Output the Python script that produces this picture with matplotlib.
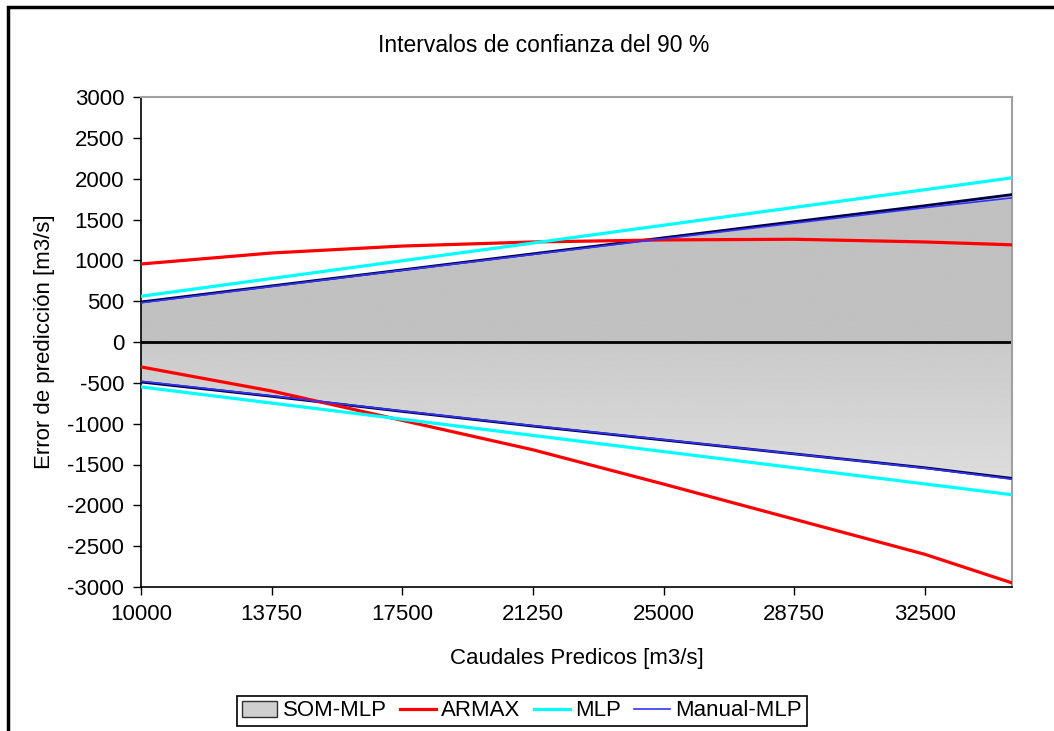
import numpy as np
import matplotlib
matplotlib.use("Agg")
import matplotlib.pyplot as plt
from matplotlib.patches import Patch, Rectangle
from matplotlib.lines import Line2D

plt.rcParams['font.family'] = ['Liberation Sans', 'DejaVu Sans']

# Predicted discharge [m3/s]
caudal = [10000, 13750, 17500, 21250, 25000, 28750, 32500, 35000]

# 90 % confidence interval bounds of the prediction error [m3/s]
som_sup = [490, 687, 883, 1080, 1276, 1473, 1669, 1805]
som_inf = [-490, -665, -850, -1030, -1200, -1370, -1540, -1670]
armax_sup = [955, 1090, 1175, 1225, 1250, 1258, 1225, 1190]
armax_inf = [-305, -600, -960, -1320, -1740, -2170, -2600, -2950]
mlp_sup = [560, 778, 995, 1212, 1430, 1648, 1865, 2010]
mlp_inf = [-550, -748, -946, -1144, -1342, -1540, -1738, -1870]
manual_sup = [480, 680, 878, 1072, 1265, 1455, 1645, 1765]
manual_inf = [-480, -660, -845, -1025, -1195, -1370, -1545, -1680]

x_ticks = [10000, 13750, 17500, 21250, 25000, 28750, 32500]
y_ticks = list(range(-3000, 3001, 500))

fig = plt.figure(figsize=(10.54, 7.31), dpi=100)
ax = fig.add_axes([141 / 1054, 1 - 587 / 731, (1012 - 141) / 1054, (587 - 97) / 731])

x = np.array(caudal, dtype=float)

# SOM-MLP band: filled polygon with a grey vertical gradient clipped to it
band = ax.fill_between(x, som_inf, som_sup, facecolor='none', edgecolor='none', zorder=1)
ymax, ymin = max(som_sup), min(som_inf)
ys = np.linspace(ymax, ymin, 400)
shade = np.where(ys >= 0, 0.755, 0.79 + (0.865 - 0.79) * (-ys / -ymin))
grad = np.tile(shade[:, None], (1, 2))
img = ax.imshow(grad, cmap='gray', vmin=0, vmax=1, aspect='auto',
                extent=[x[0], x[-1], ymin, ymax], interpolation='bilinear', zorder=1)
path = band.get_paths()[0]
img.set_clip_path(path, ax.transData)

ax.plot(x, som_sup, color='#000040', lw=2.0, zorder=3)
ax.plot(x, som_inf, color='#000040', lw=2.0, zorder=3)

ax.axhline(0, color='black', lw=2.0, zorder=2)

ax.plot(x, armax_sup, color='#ff0000', lw=2.3, zorder=4)
ax.plot(x, armax_inf, color='#ff0000', lw=2.3, zorder=4)
ax.plot(x, mlp_sup, color='#00ffff', lw=2.3, zorder=4)
ax.plot(x, mlp_inf, color='#00ffff', lw=2.3, zorder=4)
ax.plot(x, manual_sup, color='#3333ff', lw=1.2, zorder=5)
ax.plot(x, manual_inf, color='#3333ff', lw=1.2, zorder=5)

ax.set_xlim(10000, 35000)
ax.set_ylim(-3000, 3000)
ax.set_xticks(x_ticks)
ax.set_xticklabels([str(v) for v in x_ticks])
ax.set_yticks(y_ticks)
ax.set_yticklabels([str(v) for v in y_ticks])
ax.tick_params(axis='both', direction='out', length=6, width=1.0, color='black',
               labelsize=16, pad=6)

for side in ('left', 'bottom'):
    ax.spines[side].set_color('black')
    ax.spines[side].set_linewidth(1.2)
for side in ('top', 'right'):
    ax.spines[side].set_color('#a0a0a0')
    ax.spines[side].set_linewidth(1.5)

ax.set_xlabel('Caudales Predicos [m3/s]', fontsize=16, labelpad=17)
ax.set_ylabel('Error de predicción [m3/s]', fontsize=16, labelpad=9)
fig.text(544 / 1054, 1 - 45 / 731, 'Intervalos de confianza del 90 %',
         ha='center', va='center', fontsize=16.5)

handles = [
    Patch(facecolor='#cfcfcf', edgecolor='#303030', linewidth=1.0, label='SOM-MLP'),
    Line2D([], [], color='#ff0000', lw=2.3, label='ARMAX'),
    Line2D([], [], color='#00ffff', lw=2.3, label='MLP'),
    Line2D([], [], color='#3333ff', lw=1.2, label='Manual-MLP'),
]
leg = fig.legend(handles=handles, loc='center', ncol=4,
                 bbox_to_anchor=(522 / 1054, 1 - 711 / 731), fontsize=16,
                 frameon=True, fancybox=False, edgecolor='black', framealpha=1,
                 handlelength=1.6, handletextpad=0.25, columnspacing=0.6,
                 borderpad=0.2, borderaxespad=0)
leg.get_frame().set_linewidth(1.2)

# outer frame of the chart area
fig.add_artist(Rectangle((7.5 / 1054, -0.05), 1.2, 1 - 7.5 / 731 + 0.05,
                         transform=fig.transFigure, fill=False,
                         edgecolor='black', linewidth=2.5))

fig.savefig('out.png', dpi=100, facecolor='white')
